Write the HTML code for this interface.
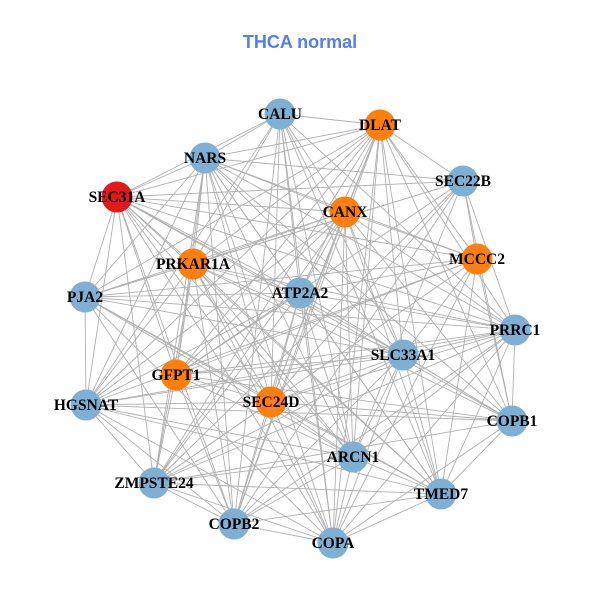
<!DOCTYPE html>
<html><head><meta charset="utf-8"><style>
html,body{margin:0;padding:0;background:#fff;}
svg{display:block}
</style></head><body>
<svg id="s" width="600" height="600" xmlns="http://www.w3.org/2000/svg">
<rect width="600" height="600" fill="#fff"/>
<text x="300" y="48" text-anchor="middle" font-family="Liberation Sans, sans-serif" font-weight="bold" font-size="18" fill="#4f7ff0">THCA normal</text>
<g id="e" stroke="#b0b0b0" stroke-width="0.9"></g>
<g id="n"></g>
<g id="t" font-family="Liberation Serif, serif" font-weight="bold" font-size="15.5" fill="#000" text-anchor="middle"></g>
</svg>
<script>
var B="#7fb0d4",O="#ff7f0e",R="#e31a1c";
var N=[["CALU",280,114,B],["DLAT",380,125,O],["NARS",205,158,B],["SEC22B",463,181,B],["SEC31A",117,197,R],["CANX",345,212,O],["MCCC2",477,259,O],["PRKAR1A",193,264,O],["ATP2A2",300,293,B],["PJA2",85,297,B],["PRRC1",515,330,B],["SLC33A1",403,355,B],["GFPT1",176,375,O],["SEC24D",271,402,O],["HGSNAT",86,405,B],["COPB1",512,421,B],["ARCN1",353,457,B],["TMED7",441,494,B],["ZMPSTE24",154,483,B],["COPB2",234,524,B],["COPA",333,543,B]];
var ns="http://www.w3.org/2000/svg",e=document.getElementById("e"),n=document.getElementById("n"),t=document.getElementById("t");
for(var i=0;i<N.length;i++)for(var j=i+1;j<N.length;j++){
 if((i*7+j*3)%9==0)continue;
 var l=document.createElementNS(ns,"line");
 l.setAttribute("x1",N[i][1]);l.setAttribute("y1",N[i][2]);l.setAttribute("x2",N[j][1]);l.setAttribute("y2",N[j][2]);e.appendChild(l);}
N.forEach(function(d){
 var c=document.createElementNS(ns,"circle");c.setAttribute("cx",d[1]);c.setAttribute("cy",d[2]);c.setAttribute("r",15.5);c.setAttribute("fill",d[3]);n.appendChild(c);
 var x=document.createElementNS(ns,"text");x.setAttribute("x",d[1]);x.setAttribute("y",d[2]+5);x.textContent=d[0];t.appendChild(x);});
</script>
</body></html>
